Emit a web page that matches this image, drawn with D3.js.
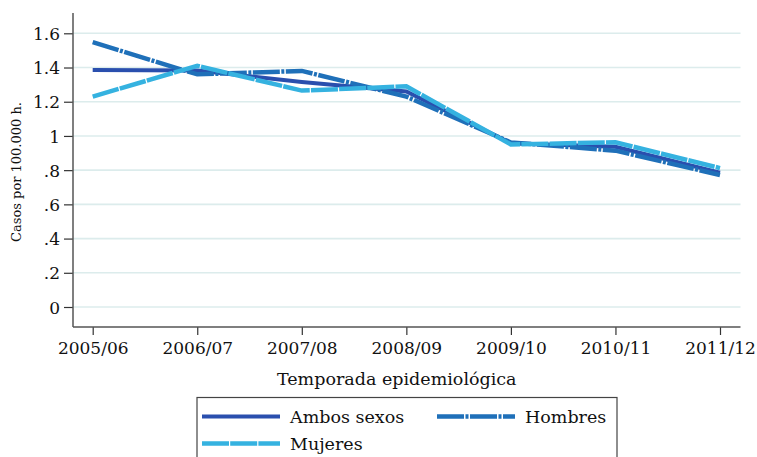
<!DOCTYPE html>
<html><head><meta charset="utf-8">
<script src="https://cdn.jsdelivr.net/npm/d3@7"></script>
<style>body{margin:0;background:#fff}svg{display:block}text{font-family:"DejaVu Serif",serif;fill:#111}</style>
</head><body>
<script>
const seasons = ["2005/06","2006/07","2007/08","2008/09","2009/10","2010/11","2011/12"];
const ambos   = [1.386, 1.383, 1.315, 1.26, 0.957, 0.937, 0.785];
const hombres = [1.548, 1.36, 1.38, 1.23, 0.962, 0.914, 0.772];
const mujeres = [1.23, 1.41, 1.265, 1.29, 0.95, 0.963, 0.812];
const yTicks = [0, 0.2, 0.4, 0.6, 0.8, 1, 1.2, 1.4, 1.6];
const yLabels = ["0", ".2", ".4", ".6", ".8", "1", "1.2", "1.4", "1.6"];

(function () {
const W = 757, H = 457;
const svg = d3.select("body").append("svg").attr("width", W).attr("height", H);

const x = d3.scalePoint().domain(seasons).range([92.7, 720]);
const y = d3.scaleLinear().domain([0, 1.6]).range([307, 33.3]);
const pl = 73, pr = 740.5, pt = 13, pb = 327;

// grid
svg.append("g").selectAll("line").data(yTicks).join("line")
  .attr("x1", pl).attr("x2", pr)
  .attr("y1", d => y(d)).attr("y2", d => y(d))
  .attr("stroke", "#dcecec").attr("stroke-width", 1.6);

// y axis
const yAxis = d3.axisLeft(y).tickValues(yTicks).tickFormat((d, i) => yLabels[i]).tickSize(9).tickPadding(4);
const gy = svg.append("g").attr("transform", `translate(${pl},0)`).call(yAxis);
gy.select(".domain").remove();
gy.append("line").attr("x1", 0).attr("x2", 0).attr("y1", pt).attr("y2", pb).attr("stroke", "#555").attr("stroke-width", 1.5);
gy.selectAll(".tick line").attr("stroke", "#333").attr("stroke-width", 1.2);
gy.selectAll(".tick text").attr("font-size", 17).attr("font-family", "DejaVu Serif").attr("fill", "#111").attr("dy", "0.36em");

// x axis
const xAxis = d3.axisBottom(x).tickSize(8).tickPadding(7);
const gx = svg.append("g").attr("transform", `translate(0,${pb})`).call(xAxis);
gx.select(".domain").remove();
gx.append("line").attr("x1", pl).attr("x2", pr).attr("y1", 0).attr("y2", 0).attr("stroke", "#555").attr("stroke-width", 1.5);
gx.selectAll(".tick line").attr("stroke", "#333").attr("stroke-width", 1.2);
gx.selectAll(".tick text").attr("font-size", 17).attr("font-family", "DejaVu Serif").attr("fill", "#111");

// titles
svg.append("text").attr("x", (pl + pr) / 2 - 10).attr("y", 385).attr("text-anchor", "middle")
  .attr("font-size", 17.5).text("Temporada epidemiológica");
svg.append("text").attr("transform", `translate(21,${(pt + pb) / 2 + 2}) rotate(-90)`)
  .attr("text-anchor", "middle").attr("font-size", 13).text("Casos por 100.000 h.");

// series
const series = [
  {name: "Ambos sexos", values: ambos, color: "#2a4fae", width: 4, dash: null},
  {name: "Hombres", values: hombres, color: "#1f70b9", width: 4.5, dash: "27,1.5,3,1.5"},
  {name: "Mujeres", values: mujeres, color: "#35b2e0", width: 4.5, dash: "27,1.2"}
];
const line = d3.line().x((d, i) => x(seasons[i])).y(d => y(d));
svg.append("g").selectAll("path").data(series).join("path")
  .attr("d", d => line(d.values))
  .attr("fill", "none").attr("stroke", d => d.color).attr("stroke-width", d => d.width)
  .attr("stroke-dasharray", d => d.dash).attr("stroke-linejoin", "miter");

// legend
const lg = svg.append("g");
lg.append("rect").attr("x", 197).attr("y", 397.5).attr("width", 420).attr("height", 80)
  .attr("fill", "#fff").attr("stroke", "#444").attr("stroke-width", 1.2);
const pos = [{x: 202, y: 416.5}, {x: 437, y: 416.5}, {x: 202, y: 443.5}];
series.forEach((s, i) => {
  const p = pos[i];
  lg.append("line").attr("x1", p.x).attr("x2", p.x + 78).attr("y1", p.y).attr("y2", p.y)
    .attr("stroke", s.color).attr("stroke-width", s.width).attr("stroke-dasharray", s.dash);
  lg.append("text").attr("x", p.x + 88).attr("y", p.y + 6).attr("font-size", 17.5).text(s.name);
});
})();
</script>
</body></html>
